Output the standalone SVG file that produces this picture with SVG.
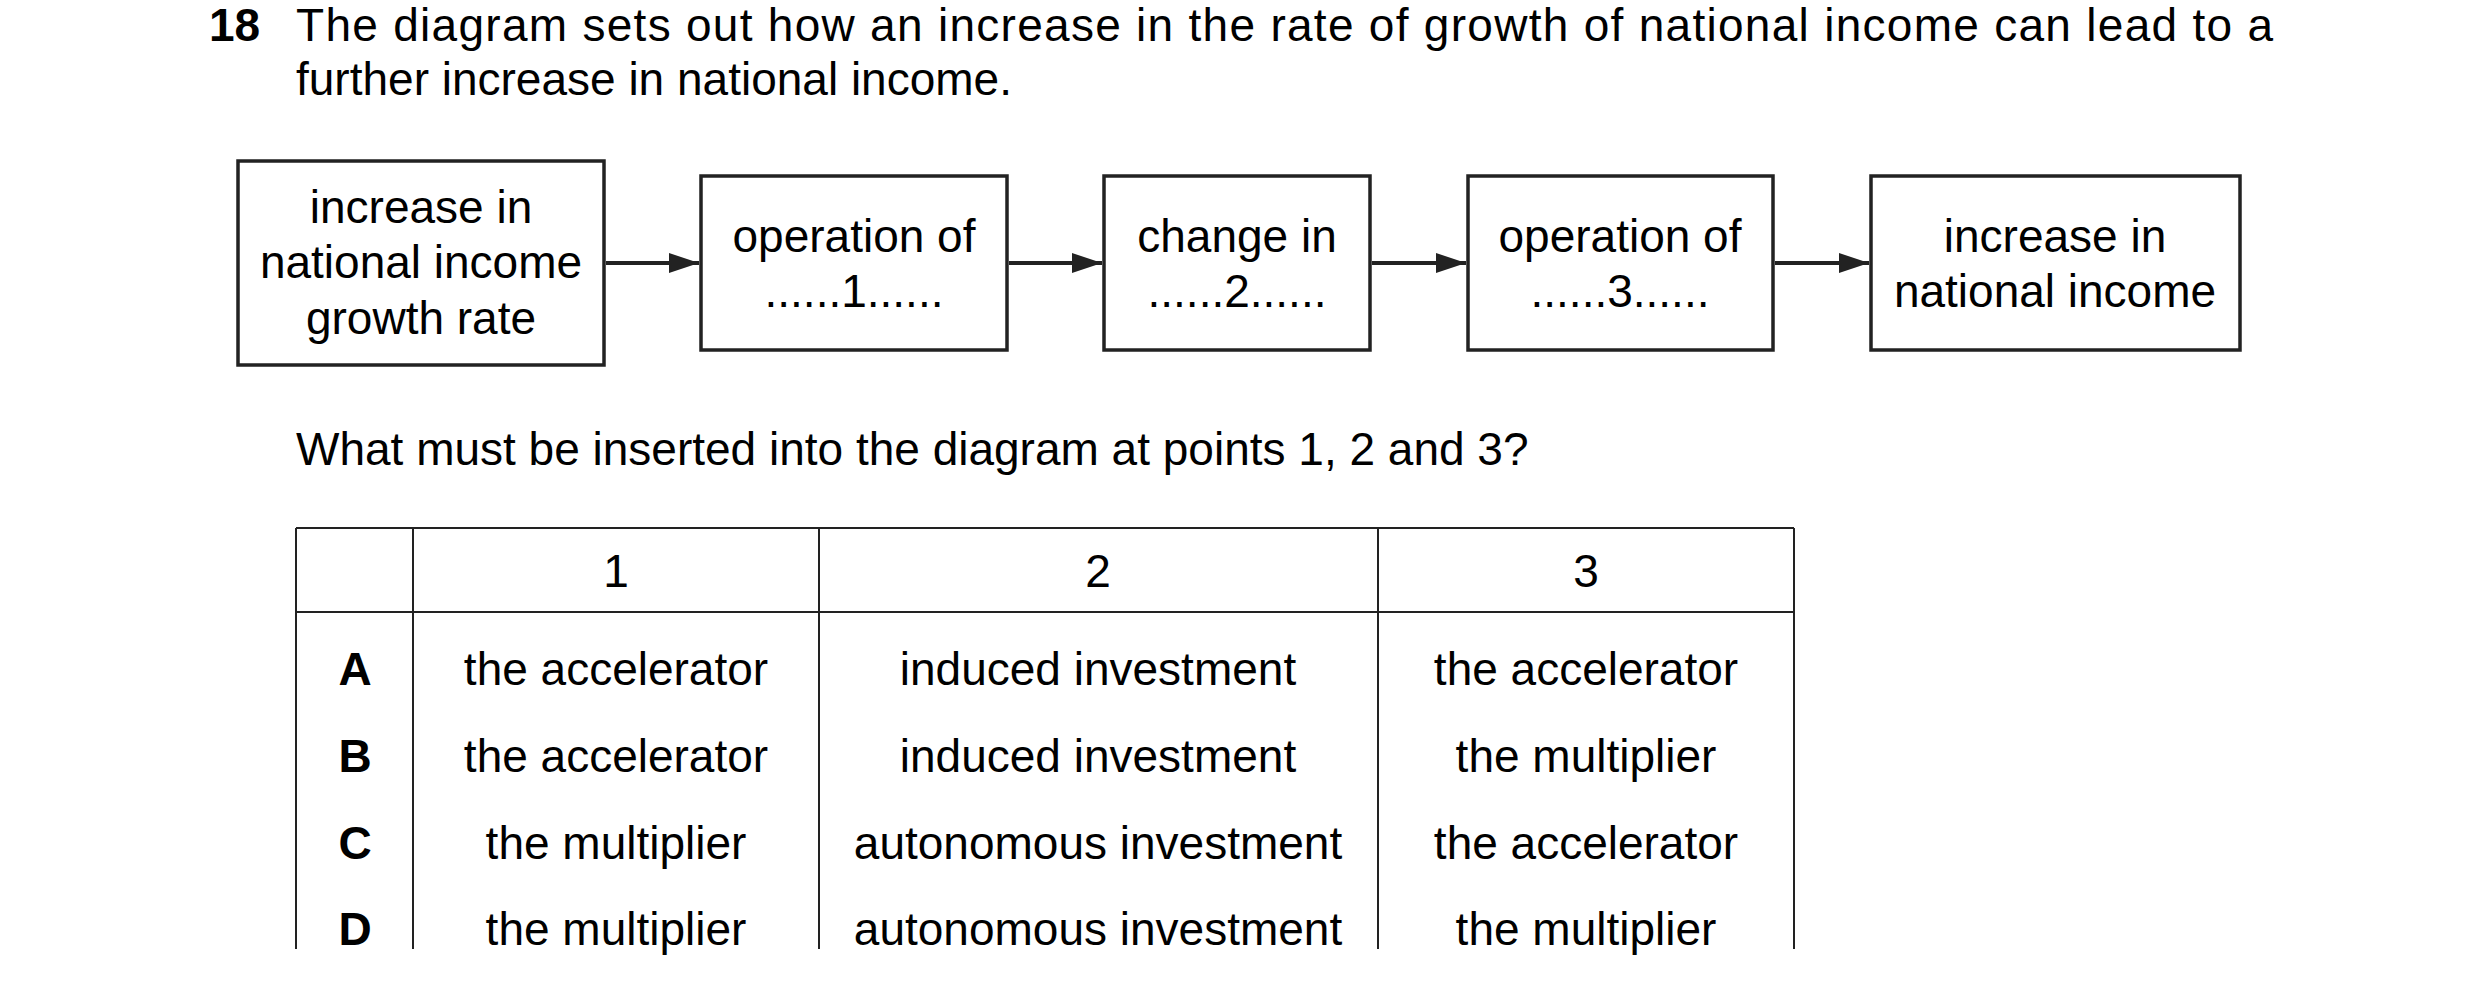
<svg xmlns="http://www.w3.org/2000/svg" width="2480" height="989" viewBox="0 0 2480 989">
<style>
text{font-family:"Liberation Sans",Arial,sans-serif;font-size:46px;fill:#000}
.c{text-anchor:middle}
.b{font-weight:bold}
.box{fill:#fff;stroke:#222;stroke-width:3.5}
.ln{stroke:#222;stroke-width:2}
.ar{stroke:#222;stroke-width:4;fill:none;marker-end:url(#ah)}
</style>
<defs><marker id="ah" markerWidth="30" markerHeight="20" refX="30" refY="10" orient="auto" markerUnits="userSpaceOnUse" viewBox="0 0 30 20"><path d="M0,0L30,10L0,20z" fill="#222"/></marker></defs>
<rect width="2480" height="989" fill="#fff"/>
<text x="209" y="41" class="b">18</text>
<text x="296" y="41" textLength="1977" lengthAdjust="spacing">The diagram sets out how an increase in the rate of growth of national income can lead to a</text>
<text x="296" y="95">further increase in national income.</text>
<g id="n1"><rect class="box" x="238" y="161" width="366" height="204"/>
<text class="c" x="421" y="223">increase in</text><text class="c" x="421" y="278">national income</text><text class="c" x="421" y="334">growth rate</text></g>
<g id="n2"><rect class="box" x="701" y="176" width="306" height="174"/>
<text class="c" x="854" y="252">operation of</text><text class="c" x="854" y="307">......1......</text></g>
<g id="n3"><rect class="box" x="1104" y="176" width="266" height="174"/>
<text class="c" x="1237" y="252">change in</text><text class="c" x="1237" y="307">......2......</text></g>
<g id="n4"><rect class="box" x="1468" y="176" width="305" height="174"/>
<text class="c" x="1620" y="252">operation of</text><text class="c" x="1620" y="307">......3......</text></g>
<g id="n5"><rect class="box" x="1871" y="176" width="369" height="174"/>
<text class="c" x="2055" y="252">increase in</text><text class="c" x="2055" y="307">national income</text></g>
<g id="connectors">
<line class="ar" x1="606" y1="263" x2="699" y2="263"/>
<line class="ar" x1="1009" y1="263" x2="1102" y2="263"/>
<line class="ar" x1="1372" y1="263" x2="1466" y2="263"/>
<line class="ar" x1="1775" y1="263" x2="1869" y2="263"/>
</g>
<text x="296" y="465">What must be inserted into the diagram at points 1, 2 and 3?</text>
<g id="table">
<line class="ln" x1="296" y1="528" x2="1794" y2="528"/>
<line class="ln" x1="296" y1="612" x2="1794" y2="612"/>
<line class="ln" x1="296" y1="528" x2="296" y2="949"/>
<line class="ln" x1="413" y1="528" x2="413" y2="949"/>
<line class="ln" x1="819" y1="528" x2="819" y2="949"/>
<line class="ln" x1="1378" y1="528" x2="1378" y2="949"/>
<line class="ln" x1="1794" y1="528" x2="1794" y2="949"/>
<text class="c" x="616" y="587">1</text><text class="c" x="1098" y="587">2</text><text class="c" x="1586" y="587">3</text>
<text class="c b" x="355" y="685">A</text><text class="c" x="616" y="685">the accelerator</text><text class="c" x="1098" y="685">induced investment</text><text class="c" x="1586" y="685">the accelerator</text>
<text class="c b" x="355" y="772">B</text><text class="c" x="616" y="772">the accelerator</text><text class="c" x="1098" y="772">induced investment</text><text class="c" x="1586" y="772">the multiplier</text>
<text class="c b" x="355" y="859">C</text><text class="c" x="616" y="859">the multiplier</text><text class="c" x="1098" y="859">autonomous investment</text><text class="c" x="1586" y="859">the accelerator</text>
<text class="c b" x="355" y="945">D</text><text class="c" x="616" y="945">the multiplier</text><text class="c" x="1098" y="945">autonomous investment</text><text class="c" x="1586" y="945">the multiplier</text>
</g>
</svg>
